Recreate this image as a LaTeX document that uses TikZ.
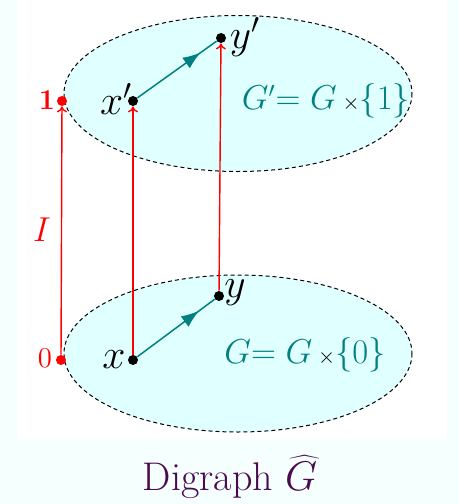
\documentclass[tikz,border=0pt]{standalone}
\usetikzlibrary{arrows.meta,decorations.markings}
\definecolor{bgout}{RGB}{245,255,253}
\definecolor{ellfill}{RGB}{224,255,255}
\definecolor{tealc}{RGB}{0,128,128}
\definecolor{plumc}{RGB}{75,10,80}
\tikzset{
  dotn/.style={circle,fill=black,inner sep=0pt,minimum size=5pt},
  rdot/.style={circle,fill=red,inner sep=0pt,minimum size=5pt},
  lbl/.style={inner sep=0pt,font=\fontsize{21}{24}\selectfont},
  set/.style={draw=black,dashed,dash pattern=on 2pt off 1.5pt,line width=0.5pt,fill=ellfill},
  edgeg/.style={tealc,line width=0.75pt,postaction={decorate},
    decoration={markings,mark=at position 0.8 with {\arrow{Latex[length=9pt,width=6.5pt]}}}},
  lift/.style={red,line width=0.7pt,-{To[length=3pt,width=5pt]}},
}
\begin{document}
\begin{tikzpicture}[x=0.5pt,y=-0.5pt]
\fill[bgout] (0,0) rectangle (459,504);
\useasboundingbox (0,0) rectangle (459,504);
\fill[white] (17,0) rectangle (447,440);
% sets
\draw[set] (238,93.5) ellipse [x radius=174, y radius=78];
\draw[set] (238,353.5) ellipse [x radius=174, y radius=78.5];
% points
\node[rdot] (one) at (62,101) {};
\node[rdot] (zero) at (61,360) {};
\node[dotn] (xp) at (133,101) {};
\node[dotn] (yp) at (221,38) {};
\node[dotn] (x) at (133,360) {};
\node[dotn] (y) at (219,296) {};
% edges
\draw[edgeg] (x) -- (y);
\draw[edgeg] (xp) -- (yp);
\draw[lift] (zero) -- (one);
\draw[lift] (x) -- (xp);
\draw[lift] (y) -- (yp);
% labels
\node[lbl] (xl) at (114,360) {$x$};
\node[lbl] (yl) at (235,293) {$y$};
\node[lbl] (xpl) at (116,99) {$x'$};
\node[lbl] (ypl) at (245,37) {$y'$};
\node[red,inner sep=0pt,font=\fontsize{14}{16}\selectfont] (onel) at (47,100) {$\mathbf{1}$};
\node[red,inner sep=0pt,font=\fontsize{14}{16}\selectfont] (zerol) at (45,358) {$0$};
\node[red,inner sep=0pt,font=\fontsize{18}{21}\selectfont] (Il) at (42,230) {$I$};
\node[tealc,inner sep=0pt,font=\fontsize{16}{19}\selectfont] (gp) at (326,101)
  {$G'{=}\;G\,{\color{black}\scriptstyle\times}\{1\}$};
\node[tealc,inner sep=0pt,font=\fontsize{16}{19}\selectfont] (g) at (305,355)
  {$G{=}\;G\,{\color{black}\scriptstyle\times}\{0\}$};
\node[plumc,inner sep=0pt,font=\fontsize{20}{24}\selectfont] (title) at (230,477)
  {Digraph $\widehat{G}$};
\end{tikzpicture}
\end{document}
